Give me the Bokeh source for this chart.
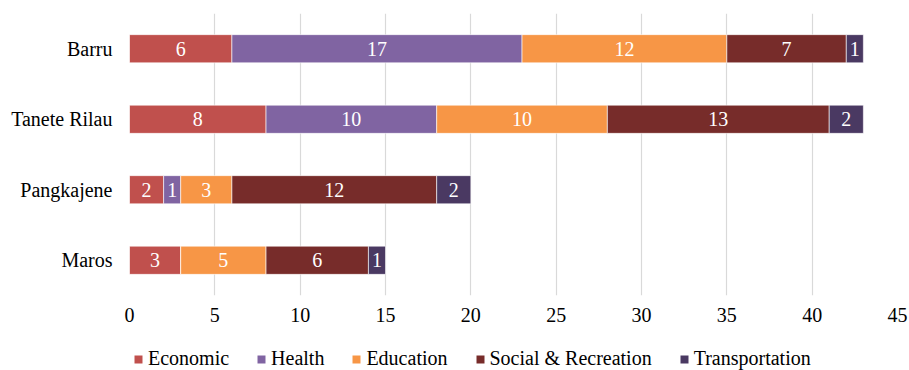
import numpy as np
from bokeh.plotting import figure
from bokeh.layouts import column
from bokeh.models import Range1d, FactorRange, ColumnDataSource, Legend, LegendItem, FixedTicker
from bokeh.core.properties import value
from bokeh.embed import file_html
from bokeh.resources import INLINE

regions = ["Barru", "Tanete Rilau", "Pangkajene", "Maros"]
series = ["Economic", "Health", "Education", "Social & Recreation", "Transportation"]
economic = [6, 8, 2, 3]
health = [17, 10, 1, 0]
education = [12, 10, 3, 5]
social = [7, 13, 12, 6]
transportation = [1, 2, 2, 1]
x_ticks = [0, 5, 10, 15, 20, 25, 30, 35, 40, 45]
colors = ["#C0504D", "#8064A2", "#F79646", "#772C2A", "#4A3962"]

FONT = "Liberation Serif"
FS = "20px"

data = {"region": regions, "Economic": economic, "Health": health,
        "Education": education, "Social & Recreation": social,
        "Transportation": transportation}
src = ColumnDataSource(data)

p = figure(width=909, height=335, output_backend="svg", toolbar_location=None,
           y_range=FactorRange(*reversed(regions), range_padding=0),
           x_range=Range1d(0, 45),
           min_border_left=129, min_border_right=12, min_border_top=13, min_border_bottom=40)

renderers = p.hbar_stack(series, y="region", height=0.4, color=colors, source=src,
                         line_color="white", line_width=0.6)

# value labels
vals = np.array([economic, health, education, social, transportation], dtype=float)
lefts = np.cumsum(vals, axis=0) - vals
tx, ty, tt = [], [], []
for i in range(len(series)):
    for j, r in enumerate(regions):
        if vals[i, j] > 0:
            tx.append(lefts[i, j] + vals[i, j] / 2)
            ty.append(r)
            tt.append(str(int(vals[i, j])))
p.text(x=tx, y=ty, text=tt, text_color="white", text_align="center",
       text_baseline="middle", text_font=value(FONT), text_font_size=FS)

p.outline_line_color = None
p.ygrid.grid_line_color = None
p.xgrid.grid_line_color = "#D9D9D9"
p.xgrid.grid_line_width = 1.2
p.xaxis.ticker = FixedTicker(ticks=x_ticks)

for ax in (p.xaxis[0], p.yaxis[0]):
    ax.axis_line_color = None
    ax.major_tick_line_color = None
    ax.minor_tick_line_color = None
    ax.major_tick_out = 0
    ax.major_tick_in = 0
    ax.major_label_text_font = FONT
    ax.major_label_text_font_size = FS
    ax.major_label_text_color = "#000000"
p.yaxis.major_label_standoff = 17
p.xaxis.major_label_standoff = 12

# legend strip below the chart (zero-size swatch proxies)
p2 = figure(width=909, height=35, output_backend="svg", toolbar_location=None,
            x_axis_type=None, y_axis_type=None, x_range=Range1d(0, 1), y_range=Range1d(0, 1),
            min_border_left=129, min_border_right=12, min_border_top=0, min_border_bottom=0)
p2.outline_line_color = None
p2.xgrid.grid_line_color = None
p2.ygrid.grid_line_color = None
swatches = [p2.hbar(y=[0.5], left=[0], right=[0], height=0, fill_color=c, line_color=None)
            for c in colors]

legend = Legend(items=[LegendItem(label=s, renderers=[r]) for s, r in zip(series, swatches)],
                orientation="horizontal", location=(4, 0),
                glyph_width=10, glyph_height=10, label_standoff=5, spacing=27,
                padding=0, margin=0, border_line_color=None, background_fill_alpha=0,
                label_text_font=FONT, label_text_font_size=FS, label_height=20,
                label_text_color="#000000")
p2.add_layout(legend, "center")

open("out.html", "w").write(file_html(column(p, p2, spacing=0), INLINE))
